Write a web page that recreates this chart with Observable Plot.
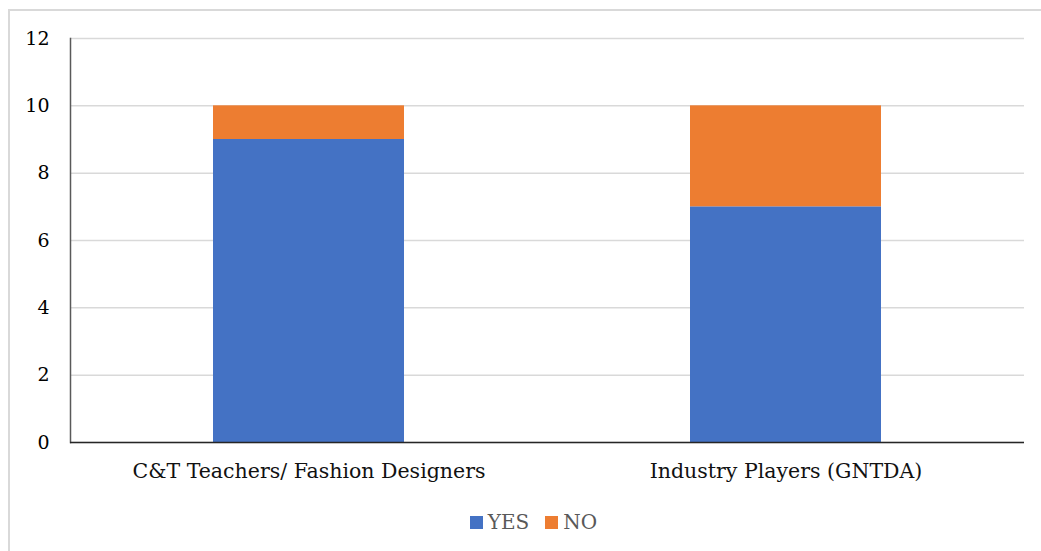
<!DOCTYPE html>
<html>
<head>
<meta charset="utf-8">
<script src="https://cdn.jsdelivr.net/npm/d3@7"></script>
<script src="https://cdn.jsdelivr.net/npm/@observablehq/plot@0.6"></script>
<style>
  body { margin: 0; background: #fff; }
  #wrap { position: relative; width: 1041px; height: 551px; overflow: hidden; font-family: "DejaVu Serif", Georgia, serif; }
  #frame { position: absolute; left: 8px; top: 9px; width: 1040px; height: 560px; border: 2px solid #d9d9d9; box-sizing: border-box; }
  #chart { position: absolute; left: 0; top: 0; }
  #legend { position: absolute; left: 0; width: 1041px; top: 510px; display: flex; justify-content: center; gap: 16px; font-size: 20px; color: #595959; padding-left: 26px; box-sizing: border-box; }
  .item { display: flex; align-items: center; gap: 5px; }
  .sw { width: 13px; height: 13px; display: inline-block; }
</style>
</head>
<body>
<div id="wrap">
  <div id="frame"></div>
  <div id="chart"></div>
  <div id="legend"></div>
</div>
<script>
const categories = ["C&T Teachers/ Fashion Designers", "Industry Players (GNTDA)"];
const series = ["YES", "NO"];
const yesValues = [9, 7];
const noValues = [1, 3];
const colors = ["#4472C4", "#ED7D31"];
const yTicks = [0, 2, 4, 6, 8, 10, 12];

const data = [];
categories.forEach((c, i) => {
  data.push({category: c, series: "YES", value: yesValues[i]});
  data.push({category: c, series: "NO", value: noValues[i]});
});

const chart = Plot.plot({
  width: 1041,
  height: 500,
  marginLeft: 70,
  marginRight: 17,
  marginTop: 38,
  marginBottom: 58,
  style: {fontFamily: "'DejaVu Serif', Georgia, serif", background: "transparent"},
  x: {domain: categories, paddingInner: 0.6, paddingOuter: 0.3, label: null},
  y: {domain: [0, 12], label: null},
  color: {domain: series, range: colors},
  marks: [
    Plot.gridY(yTicks, {stroke: "#d9d9d9", strokeOpacity: 1, strokeWidth: 1.5}),
    Plot.barY(data, Plot.stackY({order: series, x: "category", y: "value", fill: "series"})),
    Plot.frame({anchor: "left", stroke: "#595959", strokeWidth: 1.5}),
    Plot.ruleY([0], {stroke: "#262626", strokeWidth: 1.5}),
    Plot.axisY(yTicks, {tickSize: 0, tickPadding: 21, fontSize: 19, fill: "#000", label: null}),
    Plot.axisX({tickSize: 0, tickPadding: 21, fontSize: 20.5, fill: "#111", label: null})
  ]
});
document.getElementById("chart").appendChild(chart);

const legend = document.getElementById("legend");
series.forEach((s, i) => {
  const it = document.createElement("span");
  it.className = "item";
  const sw = document.createElement("span");
  sw.className = "sw";
  sw.style.background = colors[i];
  it.appendChild(sw);
  it.appendChild(document.createTextNode(s));
  legend.appendChild(it);
});
</script>
</body>
</html>
